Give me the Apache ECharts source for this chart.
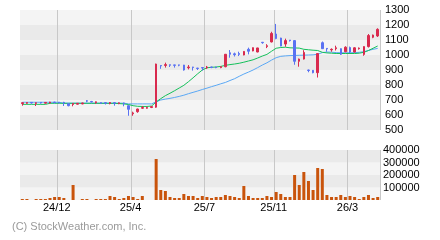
<!DOCTYPE html>
<html><head><meta charset="utf-8">
<script src="https://cdn.jsdelivr.net/npm/echarts@6/dist/echarts.min.js"></script>
<style>html,body{margin:0;padding:0;background:#fff}#c{width:440px;height:240px}</style>
</head><body><div id="c"></div><script>
// ---- data ----
const tickIndex  = [8, 24, 40, 55, 71];
const tickLabels = ['24/12', '25/4', '25/7', '25/11', '26/3'];
const priceTicks = [500, 1300, 100];
const volumeTicks = [0, 400000, 100000];

const openP  = [676,678,684,677,684,679,680,686,684,684,675,670,672,674,695,690,682,682,682,677,682,677,680,662,608,622,645,645,650,652,
                930,930,935,934,934,933,915,920,913,916,915,920,920,916,922,1015,1008,1010,1000,1038,1027,1020,1085,1056,1087,1140,1113,1073,1100,1096,
                958,973,900,898,882,1082,1044,1034,1042,1042,1022,1050,1020,1042,1004,1056,1118,1127];
const closeP = [682,683,680,682,680,684,686,682,681,680,662,677,678,680,692,687,688,679,679,683,679,681,676,638,614,640,650,650,656,940,
                927,936,932,931,932,900,920,917,910,913,920,917,916,922,1005,1005,1002,1004,1024,1025,1049,1047,1082,1062,1144,1110,1060,1096,1096,958,
                973,1017,897,882,1010,1042,1040,1038,1048,1005,1052,1020,1048,1046,1056,1130,1133,1171];
const lowP   = [662,674,676,660,676,676,678,679,678,660,658,658,670,672,685,684,675,676,670,671,662,672,658,595,595,615,640,642,646,648,
                908,916,920,916,925,896,904,896,900,896,907,912,912,912,918,982,990,993,998,1004,1025,1018,1075,1046,1084,1105,1058,1055,1090,935,
                922,970,885,878,850,1040,1022,1022,1030,1000,1018,1012,1016,1036,995,1050,1112,1120];
const highP  = [684,686,686,684,686,686,688,688,686,688,677,680,680,682,700,694,690,684,684,686,684,683,682,665,622,642,660,656,660,942,
                931,949,936,935,935,934,933,921,914,917,927,922,921,924,1006,1033,1016,1022,1026,1049,1050,1048,1086,1072,1155,1207,1115,1109,1100,1098,
                976,1032,902,900,1012,1090,1046,1044,1062,1044,1058,1056,1052,1050,1058,1140,1136,1178];
const volume = [8000,8000,0,8000,8000,8000,16000,24000,24000,16000,0,120000,0,8000,8000,0,8000,8000,8000,32000,24000,8000,16000,32000,24000,8000,32000,0,0,328000,
                80000,72000,24000,16000,16000,48000,32000,32000,16000,32000,24000,16000,24000,24000,40000,32000,24000,16000,112000,32000,16000,16000,16000,32000,24000,64000,48000,24000,24000,200000,
                120000,224000,152000,80000,256000,248000,40000,24000,24000,40000,24000,32000,24000,8000,24000,40000,16000,24000];
const maShort = [671,671,671,671,671,671,678,678,678,678,678,678,678,678,678,678,678,678,678,678,678,676,674,670,662,658,657,657,660,687,
                 709,729,745,762,780,798,822,848,875,900,915,918,920,924,931,936,940,945,952,960,968,980,993,1004,1025,1045,1050,1052,1048,1047,
                 1046,1038,1035,1032,1030,1018,1014,1012,1010,1010,1010,1010,1010,1012,1018,1030,1045,1060];
const maLong  = [685,685,685,685,685,685,685,685,685,679,679,679,679,679,679,679,679,679,679,679,679,679,679,674,674,674,674,674,674,688,
                 700,706,711,717,724,732,742,751,760,770,779,789,798,808,817,830,842,858,873,886,900,916,933,948,966,982,991,994,996,997,
                 998,999,1000,1001,1005,1016,1020,1019,1016,1015,1015,1015,1016,1018,1022,1030,1038,1044];
const categories = openP.map((_, i) => 'W' + (i + 1));

// ---- styles ----
const RED = '#d92a4e', BLUE = '#5a72f2', GREEN = '#14c05a', LBLUE = '#5aa8f5', VOL = '#c9540c';
const FONT = "'Liberation Sans', Arial, sans-serif";
const isTick = (i) => tickIndex.indexOf(i) >= 0;

const ohlc = openP.map((o, i) => [o, closeP[i], lowP[i], highP[i]]);

const chart = echarts.init(document.getElementById('c'), null, {renderer: 'canvas'});
chart.setOption({
  animation: false,
  backgroundColor: '#ffffff',
  textStyle: {fontFamily: FONT},
  grid: [
    {left: 20, top: 10, width: 360, height: 120, outerBoundsMode: 'none', containLabel: false},
    {left: 20, top: 150, width: 360, height: 50, outerBoundsMode: 'none', containLabel: false}
  ],
  xAxis: [
    {type: 'category', gridIndex: 0, data: categories, boundaryGap: true,
     axisLine: {show: false}, axisTick: {show: false}, axisLabel: {show: false},
     splitLine: {show: true, interval: isTick, lineStyle: {color: '#c8c8c8', width: 1}}},
    {type: 'category', gridIndex: 1, data: categories, boundaryGap: true,
     axisLine: {show: false}, axisTick: {show: false},
     splitLine: {show: true, interval: isTick, lineStyle: {color: '#c8c8c8', width: 1}},
     axisLabel: {show: true, interval: isTick, margin: 2, color: '#000', fontSize: 11, fontFamily: FONT,
                 padding: [0, 5, 0, 0], hideOverlap: false,
                 formatter: (v, i) => { const k = tickIndex.indexOf(i); return k >= 0 ? tickLabels[k] : ''; }}}
  ],
  yAxis: [
    {type: 'value', gridIndex: 0, position: 'right', min: priceTicks[0], max: priceTicks[1], interval: priceTicks[2],
     axisLine: {show: false}, axisTick: {show: false}, splitLine: {show: false},
     splitArea: {show: true, areaStyle: {color: ['#eaeaea', '#f4f4f4']}},
     axisLabel: {color: '#000', fontSize: 11, margin: 5, fontFamily: FONT, hideOverlap: false,
                 formatter: (v) => String(v)}},
    {type: 'value', gridIndex: 1, position: 'right', min: volumeTicks[0], max: volumeTicks[1], interval: volumeTicks[2],
     axisLine: {show: false}, axisTick: {show: false}, splitLine: {show: false},
     splitArea: {show: true, areaStyle: {color: ['#f4f4f4', '#eaeaea']}},
     axisLabel: {color: '#000', fontSize: 11, margin: 3, fontFamily: FONT, hideOverlap: false,
                 formatter: (v) => v === 0 ? '' : String(v)}}
  ],
  series: [
    {type: 'line', xAxisIndex: 0, yAxisIndex: 0, data: maLong, symbol: 'none', z: 2,
     lineStyle: {color: LBLUE, width: 1}},
    {type: 'line', xAxisIndex: 0, yAxisIndex: 0, data: maShort, symbol: 'none', z: 2,
     lineStyle: {color: GREEN, width: 1}},
    {type: 'candlestick', xAxisIndex: 0, yAxisIndex: 0, data: ohlc, barWidth: 2, z: 3,
     itemStyle: {color: RED, color0: BLUE, borderColor: RED, borderColor0: BLUE, borderWidth: 1}},
    {type: 'bar', xAxisIndex: 1, yAxisIndex: 1, data: volume, barWidth: 3,
     itemStyle: {color: VOL}}
  ],
  graphic: [
    {type: 'text', left: 12, top: 221, style: {text: '(C) StockWeather.com, Inc.', fill: '#9a9a9a', font: '11px ' + FONT}}
  ]
});
</script></body></html>
